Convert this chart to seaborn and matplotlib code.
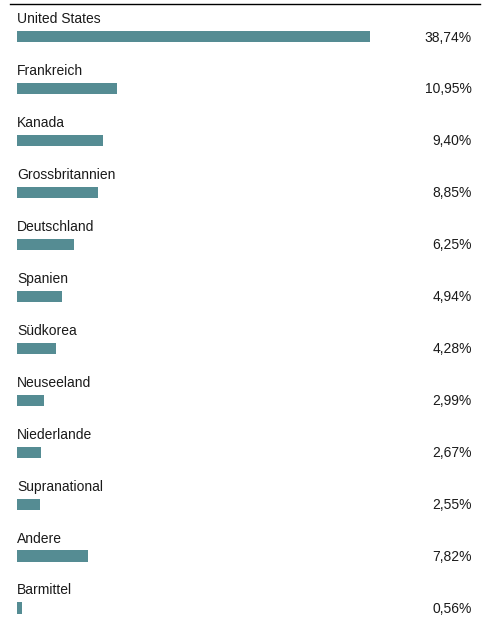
import matplotlib
matplotlib.use("Agg")
import matplotlib.pyplot as plt
import seaborn as sns
import pandas as pd

# Länderaufteilung
countries = ["United States", "Frankreich", "Kanada", "Grossbritannien", "Deutschland",
             "Spanien", "Südkorea", "Neuseeland", "Niederlande", "Supranational",
             "Andere", "Barmittel"]
weights = [38.74, 10.95, 9.40, 8.85, 6.25, 4.94, 4.28, 2.99, 2.67, 2.55, 7.82, 0.56]

df = pd.DataFrame({"country": countries, "weight": weights})

sns.set_style("white")
plt.rcParams["font.family"] = ["Liberation Sans", "DejaVu Sans"]

W, H = 488, 619
fig = plt.figure(figsize=(W / 100, H / 100), dpi=100)
# axes from x=10px to 480px, from y=4px (top rule) to bottom
ax = fig.add_axes([10 / W, 0, 470 / W, (H - 4) / H])

sns.barplot(data=df, x="weight", y="country", orient="h", color="#558c93",
            width=0.215, saturation=1, linewidth=0, ax=ax)

px_x = 9.11   # pixels per percent
px_y = 51.95  # pixels per row
ax.set_xlim(-7 / px_x, (480 - 17) / px_x)
ax.set_ylim(11 + (H - 608) / px_y, -(36.5 - 4) / px_y)

for i, (name, val) in enumerate(zip(countries, weights)):
    ax.text(0, i - 17.5 / px_y, name, fontsize=10, va="center", ha="left", color="#1a1a1a")
    ax.text((472 - 17) / px_x, i + 1 / px_y, f"{val:.2f}".replace(".", ",") + "%",
            fontsize=10, va="center", ha="right", color="#1a1a1a")

ax.set_xlabel("")
ax.set_ylabel("")
ax.set_xticks([])
ax.set_yticks([])
for side in ["right", "bottom", "left"]:
    ax.spines[side].set_visible(False)
ax.spines["top"].set_color("black")
ax.spines["top"].set_linewidth(1.0)

fig.savefig("out.png", dpi=100)
